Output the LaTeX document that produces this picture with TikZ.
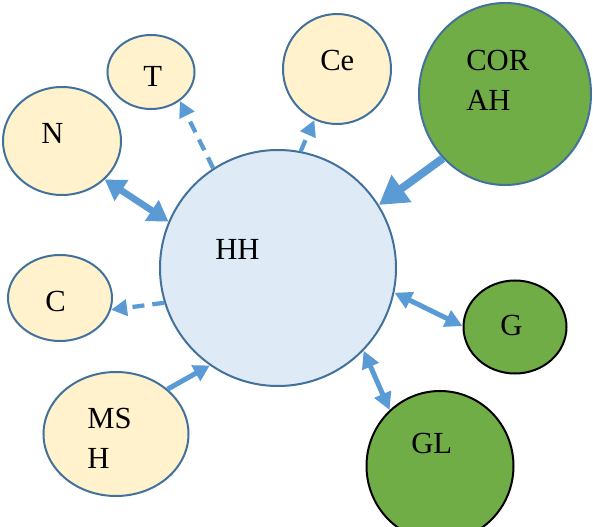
\documentclass[tikz,border=0pt]{standalone}
\usepackage{fontspec}
\setmainfont{Liberation Serif}
\usetikzlibrary{shapes.geometric, arrows.meta}
\definecolor{linkblue}{HTML}{5B9BD5}
\definecolor{rimblue}{HTML}{41719C}
\definecolor{hubfill}{HTML}{DEEBF7}
\definecolor{satfill}{HTML}{FFF2CC}
\definecolor{extfill}{HTML}{70AD47}

\begin{document}
\begin{tikzpicture}[x=0.75pt, y=-0.75pt,
    hub/.style={ellipse, draw=rimblue, line width=1.5pt, fill=hubfill, inner sep=0pt},
    sat/.style={ellipse, draw=rimblue, line width=1.5pt, fill=satfill, inner sep=0pt},
    ext/.style={ellipse, draw=black, line width=1.5pt, fill=extfill, inner sep=0pt},
    word/.style={anchor=base west, inner sep=0pt, text=black, align=left,
        font=\fontsize{23}{30}\selectfont},
    dashlink/.style={draw=linkblue, line width=3.2pt, dash pattern=on 9pt off 6pt,
        -{Triangle[length=12pt, width=12pt]}},
    thinlink/.style={draw=linkblue, line width=3.75pt,
        -{Triangle[length=12pt, width=13pt]}},
    bothlink/.style={draw=linkblue, line width=3.75pt,
        {Triangle[length=13pt, width=13pt]}-{Triangle[length=13pt, width=13pt]}},
    widelink/.style={draw=linkblue, line width=5pt,
        {Triangle[length=15pt, width=18pt]}-{Triangle[length=15pt, width=18pt]}},
    heavylink/.style={draw=linkblue, line width=6pt,
        -{Triangle[length=21pt, width=24pt]}}
]
\clip (0,0) rectangle (593,527);
\useasboundingbox (0,0) rectangle (593,527);

% the circles
\node (H00) [hub, minimum width=177pt, minimum height=177pt] at (278,268) {};
\node (S01) [sat, minimum width=65.25pt, minimum height=55.5pt] at (151,72) {};
\node (S02) [sat, minimum width=88.5pt, minimum height=81pt] at (62,141) {};
\node (S03) [sat, minimum width=81pt, minimum height=82.5pt] at (337,69) {};
\node (S04) [sat, minimum width=78pt, minimum height=64.5pt] at (60,298) {};
\node (S05) [sat, minimum width=108.75pt, minimum height=93pt] at (116,434) {};
\node (E06) [hub, fill=extfill, minimum width=129pt, minimum height=136.5pt] at (505,94) {};
\node (E07) [ext, minimum width=77.25pt, minimum height=69.75pt] at (515,327) {};
\node (E08) [ext, minimum width=110.25pt, minimum height=112.5pt] at (440,466) {};

% the texts
\node (W00) [word] at (215,260) {HH};
\node (W01) [word] at (143,87) {T};
\node (W02) [word] at (41,144) {N};
\node (W03) [word] at (320,71) {Ce};
\node (W04) [word] at (45,312) {C};
\node (W05) [word] at (87,468) {MS\\H};
\node (W06) [word] at (466,111) {COR\\AH};
\node (W07) [word] at (500,336) {G};
\node (W08) [word] at (411,454) {GL};

% the links
\draw [dashlink] (H00.123) -- (S01.-45);
\draw [dashlink] (H00.79) -- (S03.246);
\draw [dashlink] (H00.197) -- (S04.347);
\draw [widelink] (S02.318) -- (H00.157);
\draw [heavylink] (E06.226) -- (H00.32);
\draw [thinlink] (S05.41) -- (H00.235);
\draw [bothlink] (H00.348) -- (E07.179);
\draw [bothlink] (H00.316) -- (E08.132);
\end{tikzpicture}
\end{document}
